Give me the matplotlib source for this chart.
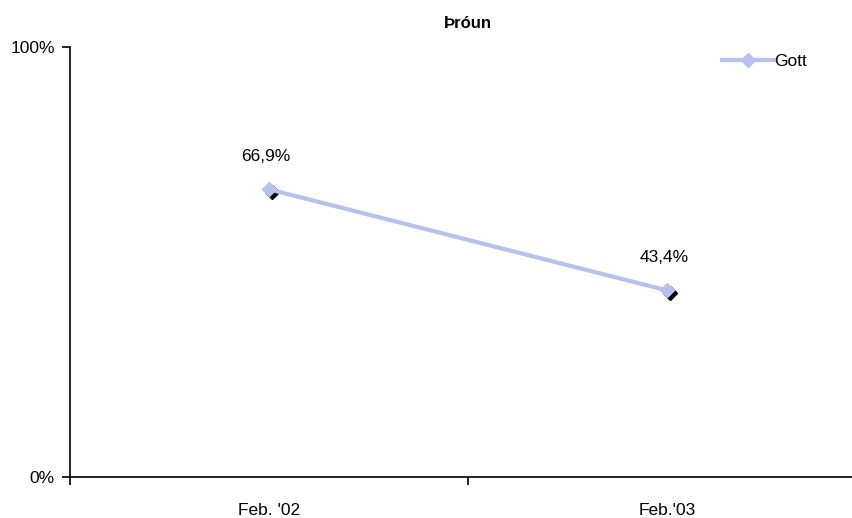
import matplotlib.pyplot as plt
import matplotlib.transforms as mtransforms
from matplotlib.ticker import PercentFormatter

plt.rcParams['font.family'] = ['Liberation Sans Narrow', 'Liberation Sans', 'DejaVu Sans']

categories = ["Feb. '02", "Feb.'03"]
gott = [0.669, 0.434]
labels = ["66,9%", "43,4%"]

line_color = '#B8C0EC'

fig = plt.figure(figsize=(8.53, 5.18), dpi=100)
ax = fig.add_axes([70 / 853, 41 / 518, 796 / 853, 430 / 518])

x = list(range(len(categories)))

# shadow under markers
shadow = mtransforms.offset_copy(ax.transData, fig=fig, x=3, y=-3, units='dots')
ax.plot(x, gott, linestyle='none', marker='D', markersize=7.5, color='black',
        transform=shadow, zorder=2)
ax.plot(x, gott, color=line_color, linewidth=3, marker='D', markersize=7.5,
        markerfacecolor=line_color, markeredgecolor=line_color, label='Gott', zorder=3)

for xi, yi, lab in zip(x, gott, labels):
    ax.annotate(lab, (xi, yi), xytext=(-2, 18), textcoords='offset points',
                ha='center', va='bottom', fontsize=12.5)

ax.set_xlim(-0.5, 1.5)
ax.set_ylim(0, 1)
ax.set_yticks([0, 1])
ax.yaxis.set_major_formatter(PercentFormatter(1.0, decimals=0))
ax.set_xticks(x)
ax.set_xticklabels(categories)
ax.set_xticks([-0.5, 0.5, 1.5], minor=True)
ax.tick_params(axis='x', which='major', length=0, pad=19, labelsize=12.5)
ax.tick_params(axis='x', which='minor', length=6, direction='out', width=1.2)
ax.tick_params(axis='y', length=6, direction='out', width=1.2, labelsize=12.5, pad=5)

for s in ['top', 'right']:
    ax.spines[s].set_visible(False)
for s in ['left', 'bottom']:
    ax.spines[s].set_linewidth(1.2)

ax.set_title('Þróun', fontsize=12, fontweight='bold', pad=14, x=0.5)

ax.legend(loc='upper right', bbox_to_anchor=(0.945, 1.02), frameon=False, fontsize=12.5,
          handlelength=3.0, handletextpad=0.0)

fig.savefig('out.png', dpi=100)
